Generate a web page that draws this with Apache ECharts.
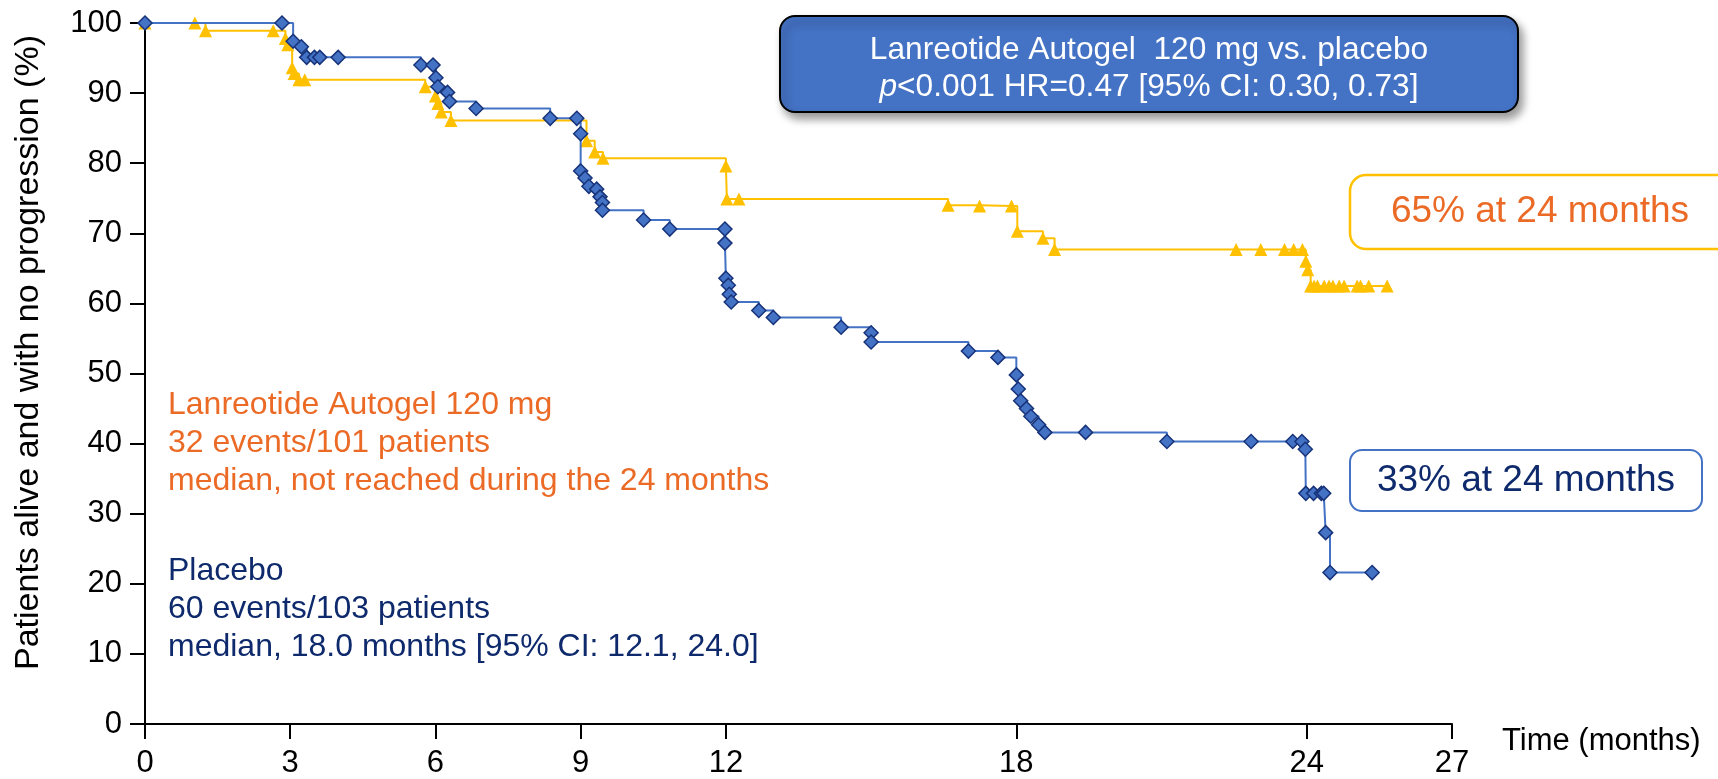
<!DOCTYPE html>
<html><head><meta charset="utf-8">
<script src="https://cdn.jsdelivr.net/npm/echarts@6/dist/echarts.min.js"></script>
<style>html,body{margin:0;padding:0;background:#fff}#c{width:1718px;height:779px}</style>
</head><body><div id="c"></div>
<script>
// ---- data ----
const xTickValues = [0, 3, 6, 9, 12, 18, 24, 27];
const yTickInterval = 10;
const xName = 'Time (months)';
const yName = 'Patients alive and with no progression (%)';

// Lanreotide Autogel 120 mg (months, % progression-free)
const lanMonths = [0, 1.03, 1.25, 2.65, 2.90, 2.95, 3.04, 3.08, 3.18, 3.30, 5.79, 6.00, 6.05, 6.12, 6.32,
  9.12, 9.29, 9.46, 12.00, 12.02, 12.27, 16.59, 17.24, 17.90, 18.02, 18.55, 18.79,
  22.54, 23.05, 23.54, 23.73, 23.91, 23.98, 24.02, 24.08, 24.15, 24.22, 24.36, 24.46, 24.54,
  24.67, 24.77, 25.04, 25.11, 25.28, 25.66];
const lanPct = [100, 100, 98.9, 98.9, 97.8, 96.9, 93.6, 92.8, 91.9, 91.9, 90.9, 89.6, 88.5, 87.3, 86.1,
  83.2, 81.6, 80.7, 79.6, 74.9, 74.9, 74.0, 73.9, 73.9, 70.3, 69.3, 67.7,
  67.7, 67.7, 67.7, 67.7, 67.7, 66.0, 64.8, 62.5, 62.5, 62.5, 62.5, 62.5, 62.5,
  62.5, 62.5, 62.5, 62.5, 62.5, 62.5];

// Placebo
const plaMonths = [0, 2.83, 3.06, 3.23, 3.34, 3.50, 3.61, 3.99, 5.70, 5.95, 6.01, 6.05, 6.25, 6.29, 6.84,
  8.37, 8.92, 9.00, 9.00, 9.09, 9.17, 9.33, 9.40, 9.45, 9.45, 10.30, 10.84, 11.98, 11.98,
  12.00, 12.05, 12.07, 12.11, 12.68, 12.98, 14.38, 15.00, 15.00, 17.01, 17.62,
  18.00, 18.04, 18.09, 18.21, 18.30, 18.46, 18.59, 19.43, 21.11, 22.85, 23.71, 23.90, 23.97,
  23.98, 24.14, 24.30, 24.35, 24.39, 24.48, 25.35];
const plaPct = [100, 100, 97.4, 96.6, 95.1, 95.1, 95.1, 95.1, 94.0, 94.0, 92.2, 90.9, 90.1, 88.8, 87.8,
  86.4, 86.4, 84.2, 78.9, 77.9, 76.7, 76.3, 75.2, 74.4, 73.3, 71.9, 70.6, 70.6, 68.6,
  63.6, 62.6, 61.3, 60.2, 59.0, 58.0, 56.6, 55.8, 54.5, 53.2, 52.3,
  49.8, 47.8, 46.1, 45.0, 43.9, 42.7, 41.6, 41.6, 40.3, 40.3, 40.3, 40.3, 39.2,
  32.9, 32.9, 32.9, 32.9, 27.3, 21.6, 21.6];

const lanLines = ['Lanreotide Autogel 120 mg', '32 events/101 patients', 'median, not reached during the 24 months'];
const plaLines = ['Placebo', '60 events/103 patients', 'median, 18.0 months [95% CI: 12.1, 24.0]'];
const boxLine1 = 'Lanreotide Autogel  120 mg vs. placebo';
const boxLine2p = 'p';
const boxLine2 = '<0.001 HR=0.47 [95% CI: 0.30, 0.73]';
const lanNote = '65% at 24 months';
const plaNote = '33% at 24 months';

// ---- chart ----
const FONT = '"Liberation Sans", Arial, sans-serif';
const ORANGE = '#EB6A26', NAVY = '#0E2A6C', BLUE = '#4472C4', GOLD = '#FFC000';
const zip = (a, b) => a.map((v, i) => [v, b[i]]);

const chart = echarts.init(document.getElementById('c'), null, {renderer: 'canvas'});
chart.setOption({
  animation: false,
  backgroundColor: '#fff',
  grid: {left: 145, right: 266, top: 23, bottom: 54, containLabel: false},
  xAxis: {
    type: 'value', min: 0, max: 27,
    name: xName, nameLocation: 'end', nameGap: 50,
    nameTextStyle: {fontFamily: FONT, fontSize: 31, color: '#000', verticalAlign: 'top', padding: [2, 0, 0, 0]},
    axisLine: {show: true, lineStyle: {color: '#000', width: 2}},
    axisTick: {show: true, customValues: xTickValues, length: 15, lineStyle: {color: '#000', width: 2}},
    axisLabel: {customValues: xTickValues, fontFamily: FONT, fontSize: 31, color: '#000', margin: 24},
    splitLine: {show: false}
  },
  yAxis: {
    type: 'value', min: 0, max: 100, interval: yTickInterval,
    name: yName, nameLocation: 'middle', nameGap: 99,
    nameTextStyle: {fontFamily: FONT, fontSize: 34, color: '#000', padding: [0, 0, 0, 42]},
    axisLine: {show: true, lineStyle: {color: '#000', width: 2}},
    axisTick: {show: true, length: 15, lineStyle: {color: '#000', width: 2}},
    axisLabel: {fontFamily: FONT, fontSize: 31, color: '#000', margin: 23},
    splitLine: {show: false}
  },
  series: [
    {
      name: 'Lanreotide Autogel 120 mg', type: 'line', step: 'end', z: 2,
      data: zip(lanMonths, lanPct), showAllSymbol: true,
      symbol: 'triangle', symbolSize: 13,
      itemStyle: {color: GOLD},
      lineStyle: {color: GOLD, width: 2}
    },
    {
      name: 'Placebo', type: 'line', step: 'end', z: 3,
      data: zip(plaMonths, plaPct), showAllSymbol: true,
      symbol: 'diamond', symbolSize: 14,
      itemStyle: {color: BLUE, borderColor: '#17337A', borderWidth: 1.5},
      lineStyle: {color: BLUE, width: 2}
    }
  ],
  graphic: [
    {type: 'text', left: 168, top: 386, z: 10,
     style: {text: lanLines.join('\n'), font: '32px ' + FONT, fill: ORANGE, lineHeight: 38}},
    {type: 'text', left: 168, top: 552, z: 10,
     style: {text: plaLines.join('\n'), font: '32px ' + FONT, fill: NAVY, lineHeight: 38}},
    {type: 'rect', z: 10, shape: {x: 780, y: 16, width: 738, height: 96, r: 15},
     style: {fill: BLUE, stroke: '#000', lineWidth: 2, shadowBlur: 8, shadowOffsetX: 4, shadowOffsetY: 6, shadowColor: 'rgba(0,0,0,0.4)'}},
    {type: 'text', z: 11, x: 1149, y: 69,
     style: {
       text: '{n|' + boxLine1 + '}\n{i|' + boxLine2p + '}{n|' + boxLine2 + '}',
       align: 'center', verticalAlign: 'middle', fill: '#fff',
       rich: {
         n: {fontFamily: FONT, fontSize: 31.7, fill: '#fff', color: '#fff', lineHeight: 37},
         i: {fontFamily: FONT, fontSize: 31.7, fontStyle: 'italic', fill: '#fff', color: '#fff', lineHeight: 37}
       }
     }},
    {type: 'rect', z: 10, shape: {x: 1350, y: 175, width: 400, height: 74, r: 16},
     style: {fill: '#fff', stroke: GOLD, lineWidth: 2.5}},
    {type: 'text', z: 11, x: 1540, y: 212,
     style: {text: lanNote, font: '37px ' + FONT, fill: ORANGE, align: 'center', verticalAlign: 'middle'}},
    {type: 'rect', z: 10, shape: {x: 1350, y: 450, width: 352, height: 61, r: 12},
     style: {fill: '#fff', stroke: BLUE, lineWidth: 2}},
    {type: 'text', z: 11, x: 1526, y: 481,
     style: {text: plaNote, font: '37px ' + FONT, fill: NAVY, align: 'center', verticalAlign: 'middle'}}
  ]
});
</script>
</body></html>
